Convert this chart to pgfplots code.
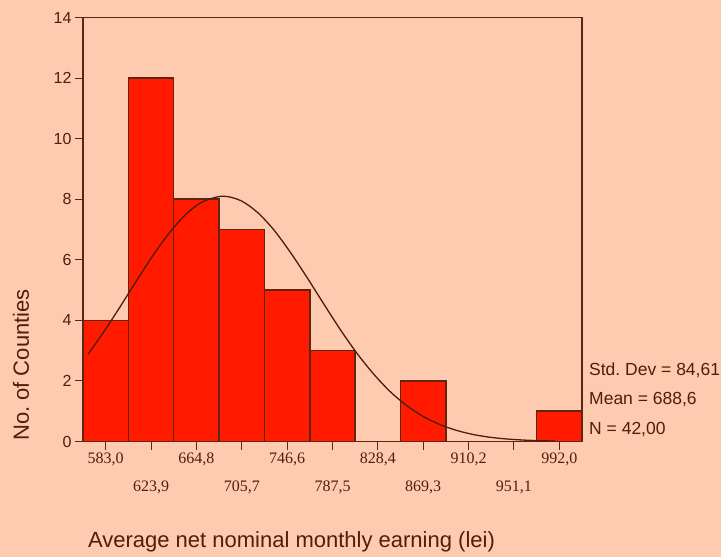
\documentclass[border=0pt]{standalone}
\usepackage{fontspec}
\setmainfont{Liberation Sans}
\newfontfamily\serif{Liberation Serif}
\usepackage{pgfplots}
\pgfplotsset{compat=1.18}
\definecolor{bg}{RGB}{255,203,176}
\definecolor{barred}{RGB}{255,26,0}
\definecolor{dbrown}{RGB}{96,36,16}
\definecolor{txt}{RGB}{80,30,10}
\frenchspacing
\begin{document}
\begin{tikzpicture}
\useasboundingbox (0,0) rectangle (721bp,557bp);
\fill[bg] (0,0) rectangle (721bp,557bp);
\begin{axis}[
  at={(83bp,115.5bp)}, anchor=south west,
  scale only axis, width=499bp, height=424bp,
  xmin=562.55, xmax=1012.45, ymin=0, ymax=14,
  axis line style={dbrown, line width=1.4bp},
  tick style={dbrown, line width=1bp},
  tick align=outside, major tick length=8bp,
  xtick pos=left, ytick pos=left,
  ytick={0,2,...,14},
  yticklabel style={font=\fontsize{16bp}{18bp}\selectfont, text=txt},
  /pgf/number format/assume math mode=true,
  xtick={583.0,664.8,746.6,828.4,910.2,992.0},
  xticklabels={{583,0},{664,8},{746,6},{828,4},{910,2},{992,0}},
  xticklabel style={font=\serif\fontsize{16bp}{18bp}\selectfont, text=txt},
  extra x ticks={623.9,705.7,787.5,869.3,951.1},
  extra x tick labels={{623,9},{705,7},{787,5},{869,3},{951,1}},
  extra x tick style={tick label style={yshift=-28bp}},
  clip=false,
]
\addplot[ybar interval, fill=barred, draw=dbrown, line width=1.5bp] coordinates {
  (562.55,4) (603.45,12) (644.35,8) (685.25,7) (726.15,5) (767.05,3)
  (807.95,0) (848.85,2) (889.75,0) (930.65,0) (971.55,1) (1012.45,1)
};
\addplot[smooth, draw=dbrown!80!black, line width=1.3bp] coordinates {
  (567,2.88) (580,3.55) (595,4.39) (610,5.26) (625,6.11) (640,6.87)
  (655,7.49) (670,7.91) (688.6,8.10) (705,7.95) (720,7.56) (735,6.97)
  (750,6.22) (765,5.39) (780,4.52) (795,3.67) (810,2.89) (825,2.21)
  (840,1.63) (855,1.17) (870,0.81) (885,0.55) (900,0.36) (915,0.226)
  (930,0.138) (945,0.082) (960,0.047) (975,0.026) (988,0.015)
};
\end{axis}
\node[anchor=base, text=txt, font=\fontsize{22bp}{24bp}\selectfont] at (291.5bp,9.3bp) {Average net nominal monthly earning (lei)};
\node[anchor=center, rotate=90, text=txt, font=\fontsize{22bp}{24bp}\selectfont] at (21bp,192bp) {No. of Counties};
\node[anchor=base west, inner sep=0pt, text=txt, font=\fontsize{17.5bp}{19bp}\selectfont] at (589bp,181bp) {Std. Dev = 84,61};
\node[anchor=base west, inner sep=0pt, text=txt, font=\fontsize{17.5bp}{19bp}\selectfont] at (589bp,152bp) {Mean = 688,6};
\node[anchor=base west, inner sep=0pt, text=txt, font=\fontsize{17.5bp}{19bp}\selectfont] at (589bp,122bp) {N = 42,00};
\end{tikzpicture}
\end{document}
